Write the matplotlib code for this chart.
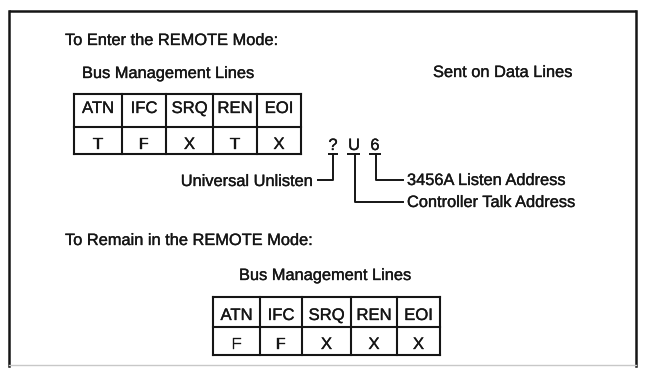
import matplotlib
matplotlib.use("Agg")
import matplotlib.pyplot as plt
import matplotlib.patheffects as pe

# ---- data ----
signals = ["ATN", "IFC", "SRQ", "REN", "EOI"]
enter_states = ["T", "F", "X", "T", "X"]
remain_states = ["F", "F", "X", "X", "X"]
data_chars = ["?", "U", "6"]
char_labels = ["Universal Unlisten", "Controller Talk Address", "3456A Listen Address"]

plt.rcParams['font.family'] = ['Liberation Sans', 'DejaVu Sans']
FS = 11.8
INK = "#151515"
EFF = [pe.withStroke(linewidth=0.25, foreground=INK)]

fig = plt.figure(figsize=(6.51, 3.68), dpi=100)
ax = fig.add_axes([0, 0, 1, 1])
ax.set_xlim(0, 651)
ax.set_ylim(368, 0)
ax.axis("off")

# outer frame
ax.plot([9, 636], [11, 11], color=INK, lw=1.8, solid_capstyle="butt")
ax.plot([9, 9], [11, 366], color=INK, lw=1.8)
ax.plot([636, 636], [11, 366], color=INK, lw=1.8)
ax.plot([9, 636], [365, 365], color="#c8c8c8", lw=1.0)

def txt(x, y, s, ha="left", fs=FS):
    ax.text(x, y, s, fontsize=fs, ha=ha, va="baseline", color=INK, path_effects=EFF)

def table(edges, rows, states, hdr_base, val_base):
    lw = 1.5
    for yy in rows:
        ax.plot([edges[0], edges[-1]], [yy, yy], color=INK, lw=lw, solid_capstyle="projecting")
    for xx in edges:
        ax.plot([xx, xx], [rows[0], rows[-1]], color=INK, lw=lw, solid_capstyle="projecting")
    for i, (sig, st) in enumerate(zip(signals, states)):
        cx = (edges[i] + edges[i + 1]) / 2
        txt(cx, hdr_base, sig, ha="center", fs=12.0)
        txt(cx, val_base, st, ha="center", fs=12.0)

# --- Enter REMOTE section ---
txt(65, 45, "To Enter the REMOTE Mode:")
txt(82, 78, "Bus Management Lines")
txt(433, 77, "Sent on Data Lines")
table([74, 122, 166, 213, 257, 301], [94, 127, 154], enter_states, 113, 149)

# data line characters with underlines and leader lines
char_x = [333, 354, 375]
ul = [(328, 338), (347, 360), (369, 381)]
for cx, ch, (u0, u1) in zip(char_x, data_chars, ul):
    txt(cx, 150, ch, ha="center")
    ax.plot([u0, u1], [153.5, 153.5], color=INK, lw=1.4, solid_capstyle="butt")

# ? -> Universal Unlisten
ax.plot([333, 333, 318], [153.5, 180, 180], color=INK, lw=1.4)
txt(313, 186, char_labels[0], ha="right")
# U -> Controller Talk Address
ax.plot([355, 355, 403], [153.5, 202, 202], color=INK, lw=1.4)
txt(407, 207, char_labels[1])
# 6 -> 3456A Listen Address
ax.plot([376, 376, 403], [153.5, 180, 180], color=INK, lw=1.4)
txt(407, 185, char_labels[2])

# --- Remain REMOTE section ---
txt(65, 245, "To Remain in the REMOTE Mode:")
txt(239, 280, "Bus Management Lines")
table([213, 260, 302, 351, 397, 440], [297, 327, 355], remain_states, 320, 349)

fig.savefig("out.png", dpi=100, facecolor="white")
